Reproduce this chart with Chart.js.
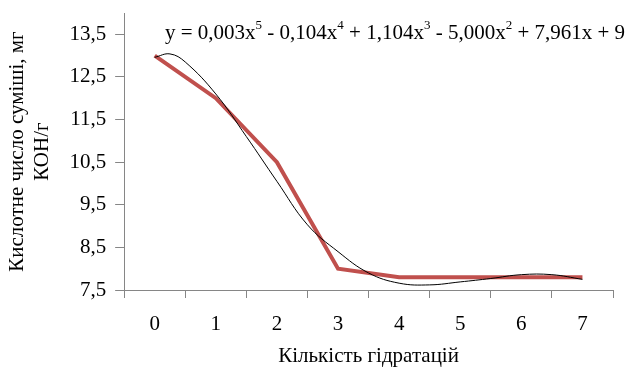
<!DOCTYPE html>
<html>
<head>
<meta charset="utf-8">
<script src="https://cdn.jsdelivr.net/npm/chart.js@4/dist/chart.umd.min.js"></script>
<style>
html, body { margin: 0; padding: 0; background: #ffffff; }
#wrap { position: relative; width: 627px; height: 376px; }
#c { position: absolute; left: 0; top: 0; }
#eq { position: absolute; left: 165px; top: 22px; font-family: "Liberation Serif", serif; font-size: 21px; line-height: 21px; color: #000; white-space: nowrap; }
#eq sup { font-size: 13px; line-height: 0; position: relative; top: -2px; }
</style>
</head>
<body>
<div id="wrap">
<canvas id="c" width="627" height="376"></canvas>
<div id="eq">y = 0,003x<sup>5</sup> - 0,104x<sup>4</sup> + 1,104x<sup>3</sup> - 5,000x<sup>2</sup> + 7,961x + 9</div>
</div>
<script>
// Data
const categories = [0, 1, 2, 3, 4, 5, 6, 7];
const acidValues = [13.0, 12.0, 10.5, 8.0, 7.8, 7.8, 7.8, 7.8];
// Trend line (polynomial) points
const trendX = [0, 0.25, 0.5, 1, 1.5, 2, 2.5, 3, 3.5, 4, 4.5, 5, 5.5, 6, 6.5, 7];
const trendY = [12.96, 13.04, 12.85, 12.1, 11.1, 10.05, 9.03, 8.4, 7.9, 7.66, 7.62, 7.69, 7.77, 7.86, 7.86, 7.75];
const yTickValues = [7.5, 8.5, 9.5, 10.5, 11.5, 12.5, 13.5];
const xTickMarks = [-0.5, 0.5, 1.5, 2.5, 3.5, 4.5, 5.5, 6.5, 7.5];
const xTitle = 'Кількість гідратацій';
const yTitle = ['Кислотне число суміші, мг', 'КОН/г'];

const axisColor = '#868686';
const tickFont = { family: '"Liberation Serif", serif', size: 21 };
const yTitleFont = { family: '"Liberation Serif", serif', size: 21, lineHeight: 1.2 };
const xTitleFont = { family: '"Liberation Serif", serif', size: 21, lineHeight: 1.0 };

const xTicksAll = xTickMarks.concat(categories).sort((a, b) => a - b);

new Chart(document.getElementById('c'), {
  type: 'line',
  data: {
    datasets: [
      {
        label: 'trend',
        data: trendX.map((x, i) => ({ x: x, y: trendY[i] })),
        borderColor: '#000000',
        borderWidth: 1,
        pointRadius: 0,
        tension: 0.4,
        fill: false
      },
      {
        label: 'values',
        data: categories.map((c, i) => ({ x: c, y: acidValues[i] })),
        borderColor: '#C0504D',
        borderWidth: 4,
        pointRadius: 0,
        tension: 0,
        fill: false
      }
    ]
  },
  options: {
    responsive: false,
    animation: false,
    layout: { padding: { left: 5, right: 9, top: 13, bottom: 9 } },
    plugins: { legend: { display: false }, tooltip: { enabled: false } },
    scales: {
      x: {
        type: 'linear',
        min: -0.5,
        max: 7.5,
        afterBuildTicks: (scale) => { scale.ticks = xTicksAll.map(v => ({ value: v })); },
        afterFit: (scale) => { scale.height = 77; },
        ticks: {
          autoSkip: false,
          maxRotation: 0,
          color: '#000',
          font: tickFont,
          padding: 14,
          callback: (v) => Number.isInteger(v) ? String(v) : ''
        },
        grid: {
          drawOnChartArea: false,
          tickLength: 8,
          tickColor: (ctx) => (ctx.tick && Number.isInteger(ctx.tick.value)) ? 'rgba(0,0,0,0)' : axisColor
        },
        border: { color: axisColor, width: 1 },
        title: { display: true, text: xTitle, color: '#000', font: xTitleFont, padding: { top: 0, bottom: 0 } }
      },
      y: {
        type: 'linear',
        min: 7.5,
        max: 14,
        afterBuildTicks: (scale) => { scale.ticks = yTickValues.map(v => ({ value: v })); },
        afterFit: (scale) => { scale.paddingTop = 0; scale.paddingBottom = 0; },
        ticks: {
          color: '#000',
          font: tickFont,
          padding: 9,
          callback: (v) => v.toFixed(1).replace('.', ',')
        },
        grid: { drawOnChartArea: false, tickLength: 9, tickColor: axisColor },
        border: { color: axisColor, width: 1 },
        title: { display: true, text: yTitle, color: '#000', font: yTitleFont, padding: { top: 0, bottom: 5 } }
      }
    }
  }
});
</script>
</body>
</html>
